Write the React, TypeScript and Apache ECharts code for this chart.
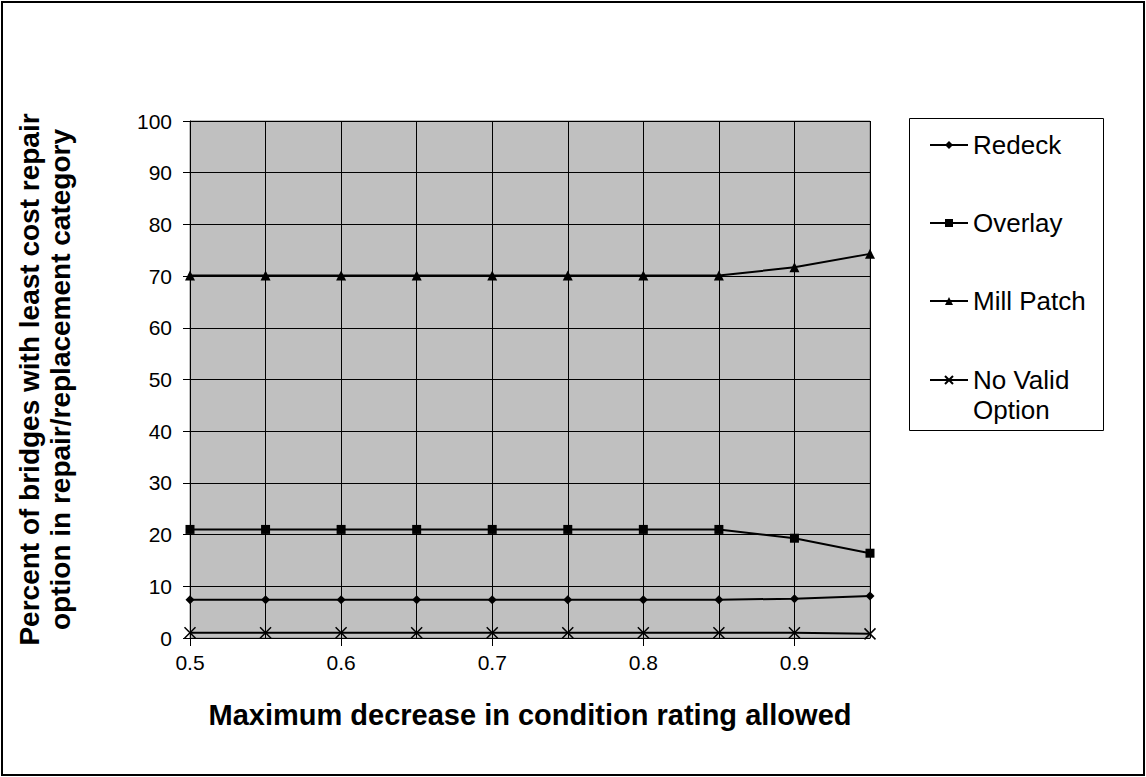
import React, { useEffect, useRef } from "react";
import * as echarts from "echarts";

const xCategories = ["0.5", "0.55", "0.6", "0.65", "0.7", "0.75", "0.8", "0.85", "0.9", "0.95"];
const redeck = [7.4, 7.4, 7.4, 7.4, 7.4, 7.4, 7.4, 7.4, 7.6, 8.1];
const overlay = [21, 21, 21, 21, 21, 21, 21, 21, 19.3, 16.4];
const millPatch = [70.1, 70.1, 70.1, 70.1, 70.1, 70.1, 70.1, 70.1, 71.7, 74.3];
const noValid = [1.0, 1.0, 1.0, 1.0, 1.0, 1.0, 1.0, 1.0, 1.0, 0.8];
const yTitle = "Percent of bridges with least cost repair\noption in repair/replacement category";
const xTitle = "Maximum decrease in condition rating allowed";

const FONT = "'Liberation Sans', Arial, sans-serif";
const CROSS = "path://M0,0L10,10M10,0L0,10";

export default function App() {
  const ref = useRef<HTMLDivElement>(null);
  useEffect(() => {
    document.body.style.margin = "0";
    const chart = echarts.init(ref.current!, undefined, { renderer: "svg" });
    const mk = (name: string, data: number[], symbol: string, size: number, extra: any = {}) => ({
      type: "line",
      name,
      data,
      symbol,
      symbolSize: size,
      showSymbol: true,
      lineStyle: { color: "#000", width: 2 },
      itemStyle: { color: "#000", ...extra },
      emphasis: { disabled: true },
      z: 3,
    });
    chart.setOption({
      animation: false,
      backgroundColor: "#fff",
      textStyle: { fontFamily: FONT },
      grid: {
        left: 190,
        top: 121,
        right: 276,
        bottom: 139,
        show: true,
        backgroundColor: "#C0C0C0",
        borderColor: "#808080",
        borderWidth: 1,
        containLabel: false,
      },
      xAxis: {
        type: "category",
        data: xCategories,
        boundaryGap: false,
        name: xTitle,
        nameLocation: "middle",
        nameGap: 62,
        nameTextStyle: { fontSize: 29, fontWeight: "bold", color: "#000", fontFamily: FONT },
        axisLine: { lineStyle: { color: "#000", width: 1 } },
        axisTick: { show: true, length: 8, interval: (i: number) => i % 2 === 0, lineStyle: { color: "#000" } },
        axisLabel: {
          interval: (i: number) => i % 2 === 0,
          fontSize: 21,
          color: "#000",
          margin: 14,
          fontFamily: FONT,
        },
        splitLine: { show: true, interval: 0, lineStyle: { color: "#000", width: 1 } },
      },
      yAxis: {
        type: "value",
        min: 0,
        max: 100,
        interval: 10,
        name: yTitle,
        nameLocation: "middle",
        nameRotate: 90,
        nameGap: 114,
        nameTextStyle: { fontSize: 28, fontWeight: "bold", color: "#000", fontFamily: FONT, lineHeight: 31 },
        axisLine: { show: true, lineStyle: { color: "#000", width: 1 } },
        axisTick: { show: true, length: 7, lineStyle: { color: "#000" } },
        axisLabel: { fontSize: 21, color: "#000", margin: 18, fontFamily: FONT },
        splitLine: { show: true, lineStyle: { color: "#000", width: 1 } },
      },
      legend: [
        {
          data: ["Redeck", "Overlay", "Mill Patch"],
          orient: "vertical",
          left: 929,
          top: 130,
          padding: 0,
          itemGap: 48,
          itemWidth: 38,
          itemHeight: 10,
          textStyle: { fontSize: 26, color: "#000", fontFamily: FONT, lineHeight: 30 },
          selectedMode: false,
        },
        {
          data: ["No Valid Option"],
          formatter: () => "\nNo Valid\nOption",
          orient: "vertical",
          left: 929,
          top: 335,
          padding: 0,
          itemWidth: 38,
          itemHeight: 10,
          textStyle: { fontSize: 26, color: "#000", fontFamily: FONT, lineHeight: 30 },
          selectedMode: false,
        },
      ],
      graphic: [
        {
          type: "rect",
          shape: { x: 909.5, y: 118.5, width: 194, height: 312 },
          style: { fill: "none", stroke: "#000", lineWidth: 1 },
          silent: true,
        },
        {
          type: "rect",
          shape: { x: 2, y: 2, width: 1142, height: 773 },
          style: { fill: "none", stroke: "#000", lineWidth: 2 },
          silent: true,
        },
      ],
      series: [
        mk("Redeck", redeck, "diamond", 9),
        mk("Overlay", overlay, "rect", 9),
        mk("Mill Patch", millPatch, "triangle", 10),
        mk("No Valid Option", noValid, CROSS, 11, { borderColor: "#000", borderWidth: 1.5 }),
      ],
    });
    return () => chart.dispose();
  }, []);
  return <div ref={ref} style={{ width: 1146, height: 777 }} />;
}
